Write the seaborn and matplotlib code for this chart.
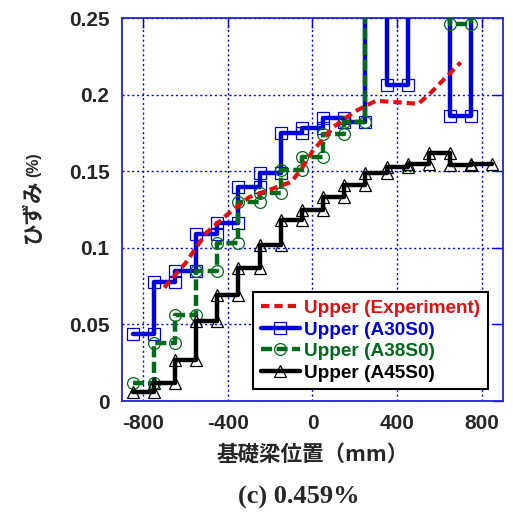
import numpy as np
import pandas as pd
import matplotlib
matplotlib.use("Agg")
import matplotlib.pyplot as plt
import seaborn as sns

# element boundaries along the footing beam (mm)
bounds = [-850, -750, -650, -550, -450, -350, -250, -150, -50,
          50, 150, 250, 350, 450, 550, 650, 750, 850]

# strain per element (%) ; 0.30 = runs off the top of the plot
a30s0 = [0.044, 0.078, 0.085, 0.109, 0.116, 0.140, 0.149, 0.175, 0.178,
         0.185, 0.182, 0.30, 0.206, 0.30, 0.30, 0.186, 0.30]
a38s0 = [0.012, 0.038, 0.056, 0.085, 0.103, 0.130, 0.136, 0.151, 0.159,
         0.174, 0.182, 0.30, 0.30, 0.30, 0.30, 0.246, 0.30]
a45s0 = [0.006, 0.012, 0.027, 0.052, 0.069, 0.087, 0.102, 0.118, 0.125,
         0.133, 0.141, 0.149, 0.153, 0.155, 0.162, 0.154, 0.155]

# experiment (gauge positions)
exp_x = [-700, -600, -500, -400, -300, -200, -100, -50, 0, 100, 200,
         300, 400, 500, 550, 600, 650, 700]
exp_y = [0.074, 0.090, 0.110, 0.122, 0.133, 0.138, 0.143, 0.152, 0.163,
         0.179, 0.189, 0.196, 0.195, 0.194, 0.200, 0.207, 0.214, 0.221]

xticks = [-800, -400, 0, 400, 800]
xticklabels = ["-800", "-400", "0", "400", "800"]
yticks = [0, 0.05, 0.1, 0.15, 0.2, 0.25]
yticklabels = ["0", "0.05", "0.1", "0.15", "0.2", "0.25"]

labels = ["Upper (Experiment)", "Upper (A30S0)", "Upper (A38S0)", "Upper (A45S0)"]
colors = ["#e01010", "#0000dd", "#006a1a", "#000000"]


def to_steps(vals):
    xs, ys = [], []
    for i, v in enumerate(vals):
        xs += [bounds[i], bounds[i + 1]]
        ys += [v, v]
    return pd.DataFrame({"x": xs, "y": ys})


sns.set_style("white")
plt.rcParams["font.family"] = ["Liberation Sans", "DejaVu Sans"]
plt.rcParams["axes.unicode_minus"] = False

fig = plt.figure(figsize=(5.13, 5.13), dpi=100)
ax = fig.add_axes([0.2378, 0.2183, 0.7427, 0.7466])

sns.lineplot(x=exp_x, y=exp_y, ax=ax, sort=False, estimator=None,
             color=colors[0], lw=3, linestyle=(0, (2, 1.2)), label=labels[0], zorder=6)

styles = [(a30s0, "s", "-", 1), (a38s0, "o", (0, (2.5, 1)), 2), (a45s0, "^", "-", 3)]
for vals, mk, ls, k in styles:
    d = to_steps(vals)
    sns.lineplot(data=d, x="x", y="y", ax=ax, sort=False, estimator=None,
                 color=colors[k], lw=3.2, linestyle=ls, marker=mk, markersize=8.5,
                 markerfacecolor="none", markeredgecolor=colors[k], markeredgewidth=0.9,
                 label=labels[k], zorder=3 + k)

ax.set_xlim(-900, 900)
ax.set_ylim(0, 0.25)
ax.set_xticks(xticks)
ax.set_xticklabels(xticklabels)
ax.set_yticks(yticks)
ax.set_yticklabels(yticklabels)
for t in ax.get_xticklabels() + ax.get_yticklabels():
    t.set_fontweight("bold")
    t.set_fontsize(15)

ax.tick_params(direction="in", length=7, width=1, color="#0000ee",
               top=True, right=True, pad=9)
ax.grid(True, color="#0000ff", linestyle=(0, (1.5, 2)), linewidth=1)
for s in ax.spines.values():
    s.set_color("#2222dd")
    s.set_linewidth(1.3)

cjk = ["Noto Sans CJK JP", "DejaVu Sans"]
ax.set_xlabel("基礎梁位置（mm）", family=cjk, fontweight="bold", fontsize=15.5, labelpad=8)
ax.set_ylabel("")
# y label: kana at full size, unit smaller as in the original
fig.text(0.064, 0.587, "ひずみ", rotation=90, ha="center", va="center",
         family=cjk, fontweight="bold", fontsize=15.5)
fig.text(0.066, 0.678, "(%)", rotation=90, ha="center", va="center",
         fontweight="bold", fontsize=11.5)

leg = ax.legend(loc="lower right", bbox_to_anchor=(0.961, 0.031), borderaxespad=0,
                frameon=True, fancybox=False, edgecolor="black", framealpha=1,
                handlelength=2.1, labelspacing=0.22, handletextpad=0.2, borderpad=0.4,
                prop={"weight": "bold", "size": 13.7})
leg.get_frame().set_linewidth(1.5)
for txt, c in zip(leg.get_texts(), colors):
    txt.set_color(c)

fig.text(0.582, 0.031, "(c) 0.459%", ha="center", va="center",
         family=["Liberation Serif", "DejaVu Serif"], fontweight="bold", fontsize=19)

fig.savefig("out.png", dpi=100)
